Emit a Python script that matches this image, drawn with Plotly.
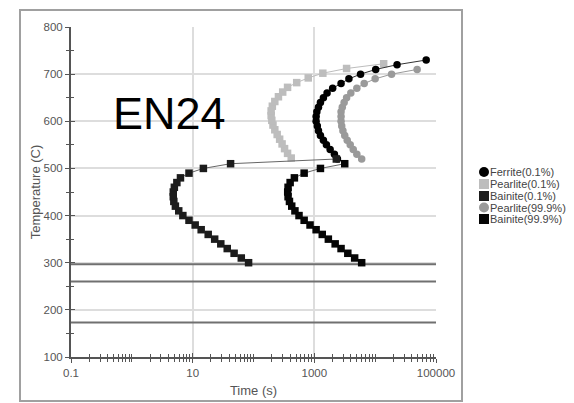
import plotly.graph_objects as go

# ---- data ----
bain01_T = [300, 310, 320, 330, 340, 350, 360, 370, 380, 390, 400, 410, 420, 430, 440, 450,
            460, 470, 480, 490, 500, 510, 520]
bain01_t = [83, 63, 48, 37, 29, 23, 18, 13.8, 11, 8.7, 6.9, 5.9, 5.2, 4.9, 4.8, 4.8,
            5.0, 5.5, 6.3, 8.7, 15, 42, 2300]

bain999_T = [300, 310, 320, 330, 340, 350, 360, 370, 380, 390, 400, 410, 420, 430, 440, 450,
             460, 470, 480, 490, 500, 510]
bain999_t = [6000, 4600, 3550, 2750, 2200, 1700, 1350, 1070, 850, 680, 560, 480, 425, 390, 370, 365,
             370, 400, 470, 680, 1260, 3160]

ferr01_T = [520, 530, 540, 550, 560, 570, 580, 590, 600, 610, 620, 630, 640, 650, 660, 670,
            680, 690, 700, 710, 720, 730]
ferr01_t = [2400, 2140, 1820, 1580, 1410, 1260, 1170, 1120, 1070, 1070, 1100, 1170, 1260, 1410, 1620, 2000,
            2750, 3700, 5750, 10200, 22900, 69000]

pearl01_T = [522, 532, 542, 552, 562, 572, 582, 592, 602, 612, 622, 632, 642, 652, 662, 672,
             682, 692, 702, 712, 722]
pearl01_t = [417, 363, 324, 295, 269, 245, 224, 209, 200, 195, 195, 204, 224, 257, 302, 363,
             513, 794, 1380, 3390, 13800]

pearl999_T = [520, 530, 540, 550, 560, 570, 580, 590, 600, 610, 620, 630, 640, 650, 660, 670,
              680, 690, 700, 710]
pearl999_t = [6000, 5000, 4360, 3890, 3470, 3160, 2950, 2820, 2750, 2750, 2750, 2880, 3090, 3390, 3980, 5000,
              6600, 10000, 18600, 49000]

martensite_T = [297, 260, 173]          # Ms, M50, M90 lines
time_range = [0.1, 100000]

x_tickvals = [0.1, 10, 1000, 100000]
x_ticktext = ["0.1", "10", "1000", "100000"]
x_minor = [d * m for d in [0.1, 1, 10, 100, 1000, 10000] for m in range(1, 10)] + [100000]
y_tickvals = [100, 200, 300, 400, 500, 600, 700, 800]

series = [
    ("Ferrite(0.1%)", ferr01_t, ferr01_T, "circle", "#000000", "#333333"),
    ("Pearlite(0.1%)", pearl01_t, pearl01_T, "square", "#bdbdbd", "#bdbdbd"),
    ("Bainite(0.1%)", bain01_t, bain01_T, "square", "#1c1c1c", "#666666"),
    ("Pearlite(99.9%)", pearl999_t, pearl999_T, "circle", "#9a9a9a", "#9a9a9a"),
    ("Bainite(99.9%)", bain999_t, bain999_T, "square", "#050505", "#666666"),
]

fig = go.Figure()

for T in martensite_T:
    fig.add_trace(go.Scatter(x=time_range, y=[T, T], mode="lines",
                             line=dict(color="#707070", width=2), showlegend=False,
                             hoverinfo="skip"))

draw_order = [3, 1, 0, 4, 2]
for i in draw_order:
    name, t, T, sym, col, lcol = series[i]
    fig.add_trace(go.Scatter(x=t, y=T, mode="lines+markers", name=name,
                             line=dict(color=lcol, width=1),
                             marker=dict(symbol=sym, size=7.5, color=col),
                             showlegend=False))

# dummy trace for overlay tick axes
fig.add_trace(go.Scatter(x=[None], y=[None], xaxis="x2", yaxis="y2", showlegend=False))

# page body adds an 8px offset; compensate so positions match the 574x403 reference
OFF = 8
W, H = 574 - OFF, 403 - OFF
L, R, T0, B = 71, 436, 27, 357          # plot area in reference pixels
pw, ph = R - L, B - T0

def px(x):
    return (x - L) / pw

def py(y):
    return (B - y) / ph

shapes = [dict(type="rect", xref="paper", yref="paper",
               x0=px(20), x1=px(462), y0=py(401), y1=py(10),
               line=dict(color="#a0a0a0", width=2), layer="below")]

annotations = [dict(text="EN24", xref="paper", yref="paper", x=px(169), y=py(113),
                    showarrow=False, xanchor="center", yanchor="middle",
                    font=dict(family="Liberation Sans, Arial", size=45, color="#000000"))]

leg_y = [172, 184, 196, 207.5, 219]
for (name, t, T, sym, col, lcol), yy in zip(series, leg_y):
    r = 5
    shp = dict(xref="paper", yref="paper", x0=px(484 - r), x1=px(484 + r),
               y0=py(yy + r), y1=py(yy - r), fillcolor=col, line=dict(width=0))
    shp["type"] = "circle" if sym == "circle" else "rect"
    shapes.append(shp)
    annotations.append(dict(text=name, xref="paper", yref="paper", x=px(489), y=py(yy),
                            xanchor="left", yanchor="middle", showarrow=False, borderpad=0,
                            font=dict(family="Liberation Sans, Arial", size=11, color="#444444")))

tickfont = dict(family="Liberation Sans, Arial", size=11.5, color="#555555")

fig.update_layout(
    width=W, height=H,
    margin=dict(l=L - OFF, r=W - (R - OFF), t=T0 - OFF, b=H - (B - OFF), pad=0, autoexpand=False),
    paper_bgcolor="white", plot_bgcolor="white",
    showlegend=False,
    shapes=shapes, annotations=annotations,
    xaxis=dict(type="log", range=[-1, 5], tickmode="array", tickvals=x_tickvals, ticktext=x_ticktext,
               ticks="outside", ticklen=4, tickwidth=1, tickcolor="#555555", automargin=False,
               minor=dict(tickmode="array", tickvals=x_minor, ticks="outside", ticklen=3,
                          tickcolor="#555555", showgrid=False),
               showline=True, linecolor="#555555", linewidth=2,
               showgrid=True, gridcolor="#dddddd", gridwidth=1.5, zeroline=False,
               tickfont=tickfont,
               title=dict(text="Time (s)", standoff=8,
                          font=dict(family="Liberation Sans, Arial", size=13, color="#555555"))),
    yaxis=dict(range=[100, 800], tickmode="array", tickvals=y_tickvals,
               ticks="outside", ticklen=4, tickwidth=1, tickcolor="#555555", automargin=False,
               minor=dict(dtick=50, ticks="outside", ticklen=3, tickcolor="#555555", showgrid=False),
               showline=True, linecolor="#555555", linewidth=2,
               showgrid=True, gridcolor="#dddddd", gridwidth=1.5, zeroline=False,
               tickfont=tickfont,
               title=dict(text="Temperature (C)", standoff=0,
                          font=dict(family="Liberation Sans, Arial", size=13, color="#555555"))),
    xaxis2=dict(type="log", range=[-1, 5], overlaying="x", anchor="y2", side="bottom",
                tickmode="array", tickvals=x_tickvals, showticklabels=False, automargin=False,
                ticks="inside", ticklen=4, tickcolor="#555555",
                minor=dict(tickmode="array", tickvals=x_minor, ticks="inside", ticklen=3,
                           tickcolor="#555555", showgrid=False),
                showgrid=False, showline=False, zeroline=False),
    yaxis2=dict(range=[100, 800], overlaying="y", anchor="x2", side="left",
                tickmode="array", tickvals=y_tickvals, showticklabels=False, automargin=False,
                ticks="inside", ticklen=4, tickcolor="#555555",
                minor=dict(dtick=50, ticks="inside", ticklen=3, tickcolor="#555555", showgrid=False),
                showgrid=False, showline=False, zeroline=False),
)

fig.write_html("out.html")
